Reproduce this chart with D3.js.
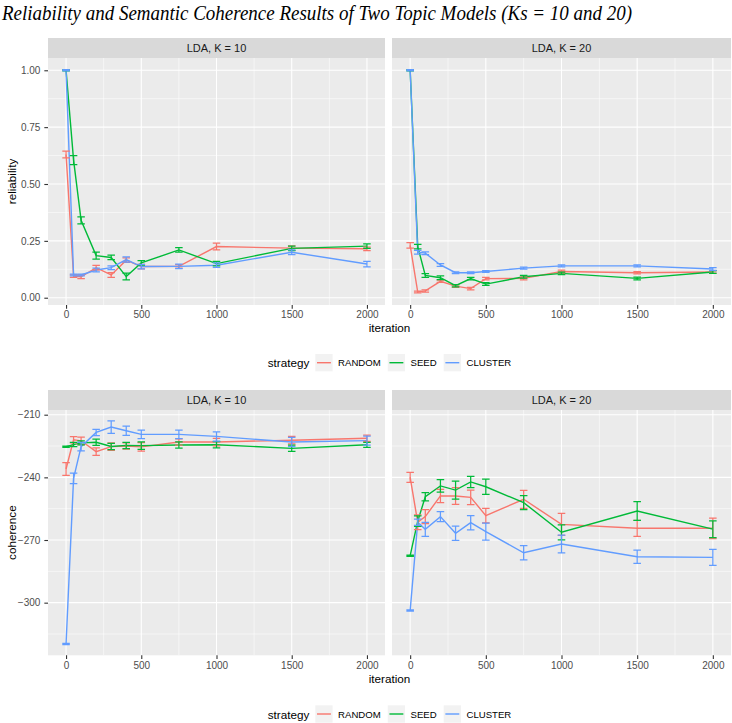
<!DOCTYPE html>
<html><head><meta charset="utf-8">
<script src="https://cdn.jsdelivr.net/npm/d3@7"></script>
<style>body{margin:0;background:#fff;} svg{display:block;}</style>
</head><body><svg id="c" width="732" height="723"></svg>
<script>
// ---------- data ----------
const iterations = [0, 50, 100, 200, 300, 400, 500, 750, 1000, 1500, 2000];
const strategies = ["RANDOM", "SEED", "CLUSTER"];
const strategyColors = ["#F8766D", "#00BA38", "#619CFF"];
const panelTitles = ["LDA, K = 10", "LDA, K = 20"];
const xTicks = [0, 500, 1000, 1500, 2000];
const relTicks = [0, 0.25, 0.5, 0.75, 1.0];
const cohTicks = [-300, -270, -240, -210];
const titleText = "Reliability and Semantic Coherence Results of Two Topic Models (Ks = 10 and 20)";

// reliability, K = 10
const relK10Random = [0.63, 0.095, 0.092, 0.132, 0.10, 0.165, 0.137, 0.138, 0.225, 0.218, 0.215];
const relK10RandomErr = [0.015, 0.006, 0.008, 0.01, 0.01, 0.01, 0.01, 0.008, 0.015, 0.01, 0.008];
const relK10Seed = [1.0, 0.605, 0.34, 0.185, 0.177, 0.093, 0.153, 0.21, 0.15, 0.217, 0.227];
const relK10SeedErr = [0.003, 0.02, 0.015, 0.015, 0.01, 0.015, 0.01, 0.01, 0.01, 0.01, 0.01];
const relK10Cluster = [1.0, 0.1, 0.1, 0.122, 0.132, 0.168, 0.137, 0.138, 0.143, 0.2, 0.148];
const relK10ClusterErr = [0.003, 0.004, 0.004, 0.008, 0.008, 0.012, 0.01, 0.01, 0.01, 0.01, 0.012];
// reliability, K = 20
const relK20Random = [0.23, 0.025, 0.03, 0.072, 0.051, 0.04, 0.084, 0.085, 0.115, 0.11, 0.113];
const relK20RandomErr = [0.012, 0.004, 0.005, 0.005, 0.005, 0.006, 0.006, 0.006, 0.006, 0.005, 0.005];
const relK20Seed = [1.0, 0.225, 0.098, 0.088, 0.053, 0.084, 0.06, 0.092, 0.107, 0.085, 0.113];
const relK20SeedErr = [0.003, 0.01, 0.008, 0.008, 0.005, 0.006, 0.006, 0.006, 0.005, 0.006, 0.006];
const relK20Cluster = [1.0, 0.2, 0.196, 0.144, 0.11, 0.11, 0.115, 0.13, 0.14, 0.14, 0.126];
const relK20ClusterErr = [0.003, 0.008, 0.006, 0.006, 0.004, 0.004, 0.004, 0.004, 0.004, 0.004, 0.006];
// coherence, K = 10
const cohK10Random = [-236, -222, -222.5, -227.7, -225.3, -225, -225.4, -223.1, -223.1, -222.2, -221.3];
const cohK10RandomErr = [3, 1.5, 1.8, 1.8, 1.8, 1.5, 2, 1.5, 1.8, 1.8, 1.5];
const cohK10Seed = [-225.3, -224.3, -223.5, -223.2, -225.2, -224.7, -224.8, -224.5, -224.4, -226.1, -224.4];
const cohK10SeedErr = [0.3, 1, 1, 1.5, 1.5, 1.5, 1.8, 1.5, 1.5, 1.5, 1.2];
const cohK10Cluster = [-319.8, -240.5, -225.3, -218.5, -215.9, -217.7, -219.4, -219.4, -220.4, -223.1, -222.4];
const cohK10ClusterErr = [0.3, 2.5, 2, 1.5, 3, 2.2, 2, 2, 2.2, 2.2, 2.2];
// coherence, K = 20
const cohK20Random = [-240, -261.5, -258.8, -248.9, -248.9, -249.6, -258.3, -250.5, -262.5, -264.4, -264.4];
const cohK20RandomErr = [2.4, 3.5, 3.4, 3.2, 4, 3.5, 3.5, 4.3, 5.3, 3.8, 4.9];
const cohK20Seed = [-277.5, -261, -249.3, -244.1, -246.1, -242.2, -244.5, -252.1, -266.3, -256.1, -264.8];
const cohK20SeedErr = [0.3, 2.5, 2, 3, 4.3, 2.7, 3.6, 3.4, 3.6, 4.5, 4];
const cohK20Cluster = [-303.8, -261.5, -264.9, -258.8, -266.8, -261.7, -266, -276.1, -271.9, -278, -278.3];
const cohK20ClusterErr = [0.3, 1.5, 3.3, 2.4, 3.4, 3.4, 4.1, 3.4, 4.2, 3.2, 3.8];

// ---------- layout ----------
const svg = d3.select("#c");
const FONT = "'Liberation Sans', Arial, Helvetica, sans-serif";
const panelsX = [[48, 385], [392, 731]];
const xDomain = [-120, 2120];
const capHalf = 25;
const TICKFS = "10px";

svg.append("text")
  .attr("x", 2).attr("y", 20)
  .attr("font-family", "'Liberation Serif', 'Times New Roman', serif")
  .attr("font-style", "italic").attr("font-size", "20.5px").attr("fill", "#000")
  .attr("textLength", 630).attr("lengthAdjust", "spacingAndGlyphs")
  .text(titleText);

function drawRow(cfg) {
  const y = d3.scaleLinear().domain(cfg.yDomain).range([cfg.plotBottom, cfg.plotTop]);
  cfg.panels.forEach((pdata, pi) => {
    const [x0, x1] = panelsX[pi];
    const x = d3.scaleLinear().domain(xDomain).range([x0, x1]);
    const g = svg.append("g");
    g.append("rect").attr("x", x0).attr("y", cfg.plotTop).attr("width", x1 - x0)
      .attr("height", cfg.plotBottom - cfg.plotTop).attr("fill", "#EBEBEB");
    // minor grid
    const xMinor = [250, 750, 1250, 1750];
    g.selectAll(".xm").data(xMinor).join("line")
      .attr("x1", d => x(d)).attr("x2", d => x(d)).attr("y1", cfg.plotTop).attr("y2", cfg.plotBottom)
      .attr("stroke", "#fff").attr("stroke-width", 0.55);
    g.selectAll(".ym").data(cfg.yMinor).join("line")
      .attr("y1", d => y(d)).attr("y2", d => y(d)).attr("x1", x0).attr("x2", x1)
      .attr("stroke", "#fff").attr("stroke-width", 0.55);
    // major grid
    g.selectAll(".xM").data(xTicks).join("line")
      .attr("x1", d => x(d)).attr("x2", d => x(d)).attr("y1", cfg.plotTop).attr("y2", cfg.plotBottom)
      .attr("stroke", "#fff").attr("stroke-width", 1.1);
    g.selectAll(".yM").data(cfg.yTicks).join("line")
      .attr("y1", d => y(d)).attr("y2", d => y(d)).attr("x1", x0).attr("x2", x1)
      .attr("stroke", "#fff").attr("stroke-width", 1.1);
    // strip
    g.append("rect").attr("x", x0).attr("y", cfg.stripTop).attr("width", x1 - x0)
      .attr("height", cfg.plotTop - cfg.stripTop).attr("fill", "#D9D9D9");
    g.append("text").attr("x", (x0 + x1) / 2).attr("y", (cfg.stripTop + cfg.plotTop) / 2)
      .attr("text-anchor", "middle").attr("dominant-baseline", "central")
      .attr("font-family", FONT).attr("font-size", "11px").attr("fill", "#1A1A1A")
      .text(panelTitles[pi]);
    // lines
    const line = d3.line().x(d => x(d.it)).y(d => y(d.v));
    pdata.forEach((s, si) => {
      const pts = iterations.map((it, i) => ({ it, v: s[0][i], e: s[1][i] }));
      g.append("path").datum(pts).attr("d", line).attr("fill", "none")
        .attr("stroke", strategyColors[si]).attr("stroke-width", 1.4);
    });
    // error bars
    pdata.forEach((s, si) => {
      const pts = iterations.map((it, i) => ({ it, v: s[0][i], e: s[1][i] }));
      const eb = g.append("g").attr("stroke", strategyColors[si]).attr("stroke-width", 1.25).attr("fill", "none");
      eb.selectAll("path").data(pts).join("path")
        .attr("d", d => {
          const xa = x(d.it - capHalf), xb = x(d.it + capHalf), xc = x(d.it);
          const yt = y(d.v + d.e), yb = y(d.v - d.e);
          return `M${xa},${yt}H${xb}M${xc},${yt}V${yb}M${xa},${yb}H${xb}`;
        });
    });
    // x axis
    const xa = g.append("g").attr("transform", `translate(0,${cfg.plotBottom})`)
      .call(d3.axisBottom(x).tickValues(xTicks).tickSize(3.67).tickPadding(2.5).tickFormat(d3.format("d")));
    xa.select(".domain").remove();
    xa.selectAll("line").attr("stroke", "#333333").attr("stroke-width", 1.1);
    xa.selectAll("text").attr("fill", "#4D4D4D").attr("font-size", TICKFS).attr("font-family", FONT);
    if (pi === 0) {
      const ya = g.append("g").attr("transform", `translate(${x0},0)`)
        .call(d3.axisLeft(y).tickValues(cfg.yTicks).tickSize(3.67).tickPadding(4).tickFormat(cfg.yFormat));
      ya.select(".domain").remove();
      ya.selectAll("line").attr("stroke", "#333333").attr("stroke-width", 1.1);
      ya.selectAll("text").attr("fill", "#4D4D4D").attr("font-size", TICKFS).attr("font-family", FONT);
    }
  });
  const cx = (panelsX[0][0] + panelsX[1][1]) / 2;
  // axis titles
  svg.append("text").attr("x", cx).attr("y", cfg.xTitleY).attr("text-anchor", "middle")
    .attr("font-family", FONT).attr("font-size", "11.7px").attr("fill", "#000").text("iteration");
  svg.append("text").attr("transform", `translate(16,${(cfg.plotTop + cfg.plotBottom) / 2}) rotate(-90)`)
    .attr("text-anchor", "middle").attr("font-family", FONT).attr("font-size", "11.7px")
    .attr("fill", "#000").text(cfg.yTitle);
  // legend
  const lg = svg.append("g");
  const keyS = 17.3;
  let cur = 0;
  const t = lg.append("text").attr("x", 0).attr("y", cfg.legendY).attr("dominant-baseline", "central")
    .attr("font-family", FONT).attr("font-size", "11.7px").attr("fill", "#000").text("strategy");
  cur = t.node().getComputedTextLength() + 6;
  strategies.forEach((s, si) => {
    lg.append("rect").attr("x", cur).attr("y", cfg.legendY - keyS / 2).attr("width", keyS).attr("height", keyS)
      .attr("fill", "#F2F2F2");
    lg.append("line").attr("x1", cur + 1.7).attr("x2", cur + keyS - 1.7).attr("y1", cfg.legendY).attr("y2", cfg.legendY)
      .attr("stroke", strategyColors[si]).attr("stroke-width", 1.4);
    cur += keyS + 5.5;
    const lt = lg.append("text").attr("x", cur).attr("y", cfg.legendY).attr("dominant-baseline", "central")
      .attr("font-family", FONT).attr("font-size", "9.6px").attr("fill", "#000").text(s);
    cur += lt.node().getComputedTextLength() + 7;
  });
  cur -= 7;
  lg.attr("transform", `translate(${cx - cur / 2},0)`);
}

drawRow({
  stripTop: 38, plotTop: 58, plotBottom: 305,
  yDomain: [-0.032, 1.054], yTicks: relTicks, yMinor: [0.125, 0.375, 0.625, 0.875],
  yFormat: d3.format(".2f"), yTitle: "reliability", xTitleY: 332, legendY: 362.7,
  panels: [
    [[relK10Random, relK10RandomErr], [relK10Seed, relK10SeedErr], [relK10Cluster, relK10ClusterErr]],
    [[relK20Random, relK20RandomErr], [relK20Seed, relK20SeedErr], [relK20Cluster, relK20ClusterErr]]
  ]
});
drawRow({
  stripTop: 390, plotTop: 410, plotBottom: 655.3,
  yDomain: [-325.2, -207.75], yTicks: cohTicks, yMinor: [-315, -285, -255, -225],
  yFormat: d3.format("d"), yTitle: "coherence", xTitleY: 683, legendY: 714,
  panels: [
    [[cohK10Random, cohK10RandomErr], [cohK10Seed, cohK10SeedErr], [cohK10Cluster, cohK10ClusterErr]],
    [[cohK20Random, cohK20RandomErr], [cohK20Seed, cohK20SeedErr], [cohK20Cluster, cohK20ClusterErr]]
  ]
});
</script></body></html>
